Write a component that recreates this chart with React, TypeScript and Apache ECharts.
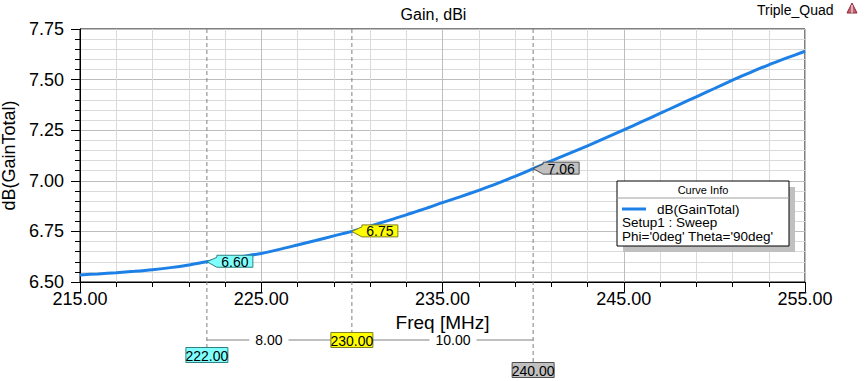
import React, { useEffect, useRef } from "react";
import * as echarts from "echarts";

const FONT = "'Liberation Sans', Arial, sans-serif";

// Data
const freqs = [215, 216, 217, 218, 219, 220, 221, 222, 223, 224, 225, 226, 227, 228, 229, 230, 231, 232, 233, 234, 235, 236, 237, 238, 239, 240, 241, 242, 243, 244, 245, 246, 247, 248, 249, 250, 251, 252, 253, 254, 255];
const gains = [6.535, 6.540, 6.546, 6.553, 6.561, 6.571, 6.584, 6.600, 6.614, 6.627, 6.641, 6.661, 6.683, 6.705, 6.728, 6.750, 6.776, 6.803, 6.832, 6.861, 6.892, 6.922, 6.953, 6.986, 7.022, 7.060, 7.098, 7.135, 7.173, 7.212, 7.252, 7.292, 7.333, 7.374, 7.415, 7.456, 7.497, 7.536, 7.573, 7.607, 7.640];
const markerFreqs = [222, 230, 240];
const markerGains = [6.60, 6.75, 7.06];
const xMin = 215;
const xMax = 255;
const yMin = 6.5;
const yMax = 7.75;
const titleText = "Gain, dBi";
const projectText = "Triple_Quad";
const yName = "dB(GainTotal)";
const xName = "Freq [MHz]";
const legendLines = ["dB(GainTotal)", "Setup1 : Sweep", "Phi='0deg' Theta='90deg'"];

// Styles (not data)
const markerFill = ["#80ffff", "#ffff00", "#c0c0c0"];
const markerStroke = ["#2f8080", "#808020", "#505050"];
const bottomLabelY = [355, 340, 370];
const deltaY = 340;

export default function App() {
  const ref = useRef<HTMLDivElement>(null);
  useEffect(() => {
    const chart = echarts.init(ref.current!, null, { renderer: "svg" });
    const option: any = {
      animation: false,
      backgroundColor: "#ffffff",
      textStyle: { fontFamily: FONT },
      title: {
        text: titleText,
        left: "center",
        top: 1,
        textStyle: { fontFamily: FONT, fontSize: 16, fontWeight: "normal", color: "#000" },
      },
      grid: {
        left: 80,
        right: 62,
        top: 29,
        bottom: 99,
        containLabel: false,
        outerBoundsMode: "none",
        show: true,
        borderColor: "#000",
        borderWidth: 1,
        backgroundColor: "transparent",
      },
      xAxis: {
        type: "value",
        min: 0,
        max: xMax - xMin,
        interval: 10,
        name: xName,
        nameLocation: "middle",
        nameGap: 30,
        nameTextStyle: { fontFamily: FONT, fontSize: 19, color: "#000" },
        axisLine: { lineStyle: { color: "#000", width: 1 } },
        axisTick: { show: true, inside: false, length: 10, lineStyle: { color: "#000" } },
        minorTick: { show: true, splitNumber: 5, length: 5, lineStyle: { color: "#000" } },
        axisLabel: {
          margin: 8,
          fontFamily: FONT,
          fontSize: 18,
          color: "#000",
          formatter: (v: number) => (v + xMin).toFixed(2),
        },
        splitLine: { show: true, lineStyle: { color: "#bdbdbd", width: 1 } },
        minorSplitLine: { show: true, lineStyle: { color: "#dadada", width: 1 } },
      },
      yAxis: {
        type: "value",
        min: yMin,
        max: yMax,
        interval: 0.25,
        name: yName,
        nameLocation: "middle",
        nameGap: 44,
        nameTextStyle: { fontFamily: FONT, fontSize: 18, color: "#000" },
        axisLine: { show: true, lineStyle: { color: "#000", width: 1 } },
        axisTick: { show: true, inside: false, length: 9, lineStyle: { color: "#000" } },
        minorTick: { show: true, splitNumber: 5, length: 5, lineStyle: { color: "#000" } },
        axisLabel: {
          margin: 16,
          fontFamily: FONT,
          fontSize: 18,
          color: "#000",
          formatter: (v: number) => v.toFixed(2),
        },
        splitLine: { show: true, lineStyle: { color: "#bdbdbd", width: 1 } },
        minorSplitLine: { show: true, lineStyle: { color: "#dadada", width: 1 } },
      },
      series: [
        {
          type: "line",
          data: freqs.map((f, i) => [f - xMin, gains[i]]),
          showSymbol: false,
          smooth: 0.3,
          lineStyle: { color: "#1c80e6", width: 3 },
          itemStyle: { color: "#1c80e6" },
          z: 5,
        },
      ],
    };
    chart.setOption(option);

    const px = (f: number, g: number) => chart.convertToPixel({ gridIndex: 0 }, [f - xMin, g]) as number[];
    const top = px(xMin, yMax)[1];
    const graphics: any[] = [];

    const mx = markerFreqs.map((f) => px(f, yMin)[0]);
    const bw = 42;
    const bh = 15;
    markerFreqs.forEach((f, i) => {
      const x = mx[i];
      const by = bottomLabelY[i];
      graphics.push({
        type: "line",
        z: 1,
        shape: { x1: x, y1: top, x2: x, y2: by - bh / 2 },
        style: { stroke: "#808080", lineWidth: 1, lineDash: [4, 3] },
      });
    });

    for (let i = 0; i < markerFreqs.length - 1; i++) {
      const x1 = mx[i];
      const x2 = mx[i + 1];
      graphics.push({
        type: "line",
        z: 1,
        shape: { x1, y1: deltaY, x2, y2: deltaY },
        style: { stroke: "#808080", lineWidth: 1 },
      });
      const segL = bottomLabelY[i] === deltaY ? x1 + bw / 2 : x1;
      const segR = bottomLabelY[i + 1] === deltaY ? x2 - bw / 2 : x2;
      graphics.push({
        type: "text",
        z: 50,
        x: (segL + segR) / 2,
        y: deltaY,
        style: {
          text: (markerFreqs[i + 1] - markerFreqs[i]).toFixed(2),
          fontFamily: FONT,
          fontSize: 14,
          fill: "#000",
          align: "center",
          verticalAlign: "middle",
          backgroundColor: "#fff",
          padding: [0, 6],
        },
      });
    }

    markerFreqs.forEach((f, i) => {
      const x = mx[i];
      const by = bottomLabelY[i];
      graphics.push({
        type: "rect",
        z: 60,
        shape: { x: x - bw / 2, y: by - bh / 2, width: bw, height: bh },
        style: { fill: markerFill[i], stroke: markerStroke[i], lineWidth: 1 },
      });
      graphics.push({
        type: "text",
        z: 61,
        x,
        y: by + 0.5,
        style: {
          text: f.toFixed(2),
          fontFamily: FONT,
          fontSize: 14,
          fill: "#000",
          align: "center",
          verticalAlign: "middle",
        },
      });
    });

    markerFreqs.forEach((f, i) => {
      const [x, y] = px(f, markerGains[i]);
      const bx = x + 10;
      const ty = y - 6.5;
      const w = 36;
      const h = 12;
      graphics.push({
        type: "polygon",
        z: 60,
        shape: {
          points: [
            [x, y],
            [bx, ty + 2],
            [bx, ty],
            [bx + w, ty],
            [bx + w, ty + h],
            [bx, ty + h],
          ],
        },
        style: { fill: markerFill[i], stroke: markerStroke[i], lineWidth: 1 },
      });
      graphics.push({
        type: "text",
        z: 61,
        x: bx + w / 2,
        y: ty + h / 2 + 0.5,
        style: {
          text: markerGains[i].toFixed(2),
          fontFamily: FONT,
          fontSize: 14,
          fill: "#000",
          align: "center",
          verticalAlign: "middle",
        },
      });
    });

    const lx = 617;
    const ly = 181;
    const lw = 172;
    const lh = 65;
    graphics.push({
      type: "group",
      z: 70,
      children: [
        { type: "rect", shape: { x: lx + 6, y: ly + 6, width: lw, height: lh }, style: { fill: "#c0c0c0" } },
        { type: "rect", shape: { x: lx, y: ly, width: lw, height: lh }, style: { fill: "#fff", stroke: "#000", lineWidth: 1 } },
        { type: "line", shape: { x1: lx, y1: ly + 17, x2: lx + lw, y2: ly + 17 }, style: { stroke: "#a0a0a0", lineWidth: 1 } },
        {
          type: "text",
          x: lx + lw / 2,
          y: ly + 9,
          style: { text: "Curve Info", fontFamily: FONT, fontSize: 11, fill: "#000", align: "center", verticalAlign: "middle" },
        },
        { type: "line", shape: { x1: lx + 5, y1: ly + 28, x2: lx + 29, y2: ly + 28 }, style: { stroke: "#1c80e6", lineWidth: 3 } },
        {
          type: "text",
          x: lx + 40,
          y: ly + 28,
          style: { text: legendLines[0], fontFamily: FONT, fontSize: 13.5, fill: "#000", align: "left", verticalAlign: "middle" },
        },
        {
          type: "text",
          x: lx + 5,
          y: ly + 41.5,
          style: { text: legendLines[1], fontFamily: FONT, fontSize: 13.5, fill: "#000", align: "left", verticalAlign: "middle" },
        },
        {
          type: "text",
          x: lx + 5,
          y: ly + 55,
          style: { text: legendLines[2], fontFamily: FONT, fontSize: 13.5, fill: "#000", align: "left", verticalAlign: "middle" },
        },
      ],
    });

    graphics.push({
      type: "text",
      z: 70,
      x: 757,
      y: 10,
      style: { text: projectText, fontFamily: FONT, fontSize: 14, fill: "#000", align: "left", verticalAlign: "middle" },
    });
    graphics.push({
      type: "polygon",
      z: 70,
      shape: { points: [[852, 3], [847, 13], [857, 13]] },
      style: { fill: "#c06070", stroke: "#902838", lineWidth: 1 },
    });
    graphics.push({
      type: "line",
      z: 71,
      shape: { x1: 852, y1: 5, x2: 852, y2: 13 },
      style: { stroke: "#ffffff", lineWidth: 1 },
    });

    chart.setOption({ graphic: graphics });

    return () => chart.dispose();
  }, []);
  return (
    <div
      ref={ref}
      style={{ position: "absolute", left: 0, top: 0, width: 867, height: 381 }}
    />
  );
}
